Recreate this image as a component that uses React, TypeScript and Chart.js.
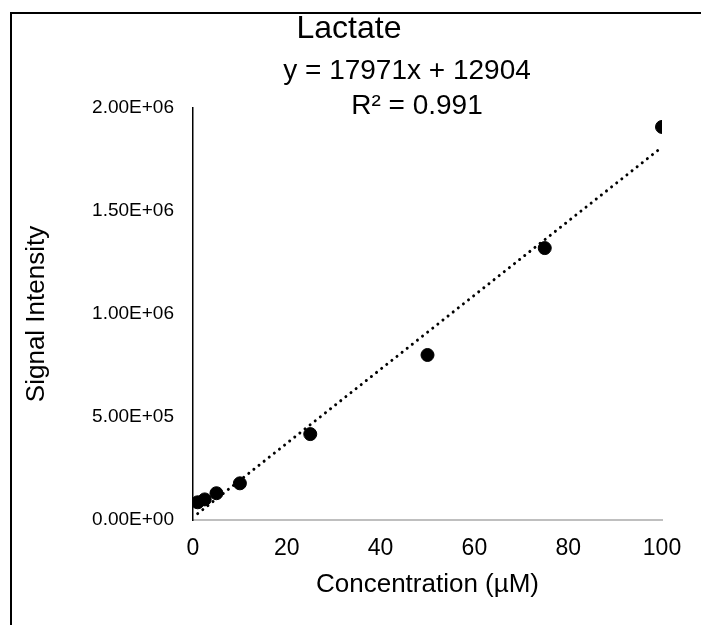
import React, { useEffect, useRef } from "react";
import { Chart, registerables } from "chart.js";

Chart.register(...registerables);

// Lactate calibration data
const concentrations = [1, 2.5, 5, 10, 25, 50, 75, 100];
const intensities = [86000, 100000, 130000, 178000, 417000, 801000, 1320000, 1908000];

// Linear trendline stated on the chart
const TREND_SLOPE = 17971;
const TREND_INTERCEPT = 12904;
const TREND_R2 = 0.991;
const trendRange = [1, 100];

const xTicks = [0, 20, 40, 60, 80, 100];
const yTicks = [0, 500000, 1000000, 1500000, 2000000];

const TITLE = "Lactate";
const X_TITLE = "Concentration (µM)";
const Y_TITLE = "Signal Intensity";

const FONT = "'Liberation Sans', Arial, sans-serif";

function sci(v: number): string {
  const [mant, exp] = v.toExponential(2).toUpperCase().split("E");
  const sign = exp.startsWith("-") ? "-" : "+";
  const digits = exp.replace(/[+-]/, "").padStart(2, "0");
  return `${mant}E${sign}${digits}`;
}

const textPlugin = {
  id: "textOverlay",
  afterDraw(chart: Chart) {
    const ctx = chart.ctx;
    ctx.save();
    // frame along the top and left edges
    ctx.strokeStyle = "#000";
    ctx.lineWidth = 2;
    ctx.beginPath();
    ctx.moveTo(11, 625);
    ctx.lineTo(11, 13);
    ctx.lineTo(701, 13);
    ctx.stroke();

    ctx.fillStyle = "#000";
    ctx.textAlign = "center";
    ctx.textBaseline = "middle";

    ctx.font = `32px ${FONT}`;
    ctx.fillText(TITLE, 349, 29);

    ctx.font = `28px ${FONT}`;
    ctx.fillText(`y = ${TREND_SLOPE}x + ${TREND_INTERCEPT}`, 407, 71);
    ctx.fillText(`R² = ${TREND_R2}`, 417, 106);

    const area = chart.chartArea;
    ctx.font = `26px ${FONT}`;
    ctx.fillText(X_TITLE, (area.left + area.right) / 2, 585);

    ctx.save();
    ctx.translate(37, (area.top + area.bottom) / 2);
    ctx.rotate(-Math.PI / 2);
    ctx.fillText(Y_TITLE, 0, 0);
    ctx.restore();

    ctx.restore();
  },
};

export default function App() {
  const canvasRef = useRef<HTMLCanvasElement | null>(null);

  useEffect(() => {
    if (!canvasRef.current) return;
    const trendPoints = trendRange.map((x) => ({
      x,
      y: TREND_SLOPE * x + TREND_INTERCEPT,
    }));
    const points = concentrations.map((x, i) => ({ x, y: intensities[i] }));

    const chart = new Chart(canvasRef.current, {
      type: "scatter",
      data: {
        datasets: [
          {
            label: "Linear (Lactate)",
            data: trendPoints,
            showLine: true,
            borderColor: "#000",
            borderWidth: 3,
            borderDash: [0.01, 6.5],
            borderCapStyle: "round",
            pointRadius: 0,
            fill: false,
          },
          {
            label: "Lactate",
            data: points,
            backgroundColor: "#000",
            borderColor: "#000",
            pointRadius: 6.5,
            pointHoverRadius: 6.5,
          },
        ],
      },
      options: {
        animation: false,
        responsive: false,
        events: [],
        layout: { padding: { left: 0, right: 39, top: 108, bottom: 0 } },
        plugins: {
          legend: { display: false },
          tooltip: { enabled: false },
          title: { display: false },
        },
        scales: {
          x: {
            type: "linear",
            min: 0,
            max: 100,
            afterBuildTicks(scale: any) {
              scale.ticks = xTicks.map((value) => ({ value }));
            },
            afterFit(scale: any) {
              scale.height = 105;
            },
            grid: { display: false, drawTicks: false },
            border: { display: true, color: "#bfbfbf", width: 2 },
            ticks: {
              color: "#000",
              font: { family: FONT, size: 23 },
              padding: 15,
              maxRotation: 0,
            },
          },
          y: {
            type: "linear",
            min: 0,
            max: 2000000,
            afterBuildTicks(scale: any) {
              scale.ticks = yTicks.map((value) => ({ value }));
            },
            afterFit(scale: any) {
              scale.width = 193;
            },
            grid: { display: false, drawTicks: false },
            border: { display: true, color: "#000", width: 1.5 },
            ticks: {
              color: "#000",
              font: { family: FONT, size: 19 },
              padding: 19,
              callback: (v: any) => sci(Number(v)),
            },
          },
        },
      },
      plugins: [textPlugin],
    });
    return () => chart.destroy();
  }, []);

  return (
    <div
      style={{
        position: "absolute",
        left: 0,
        top: 0,
        width: 701,
        height: 625,
        background: "#fff",
      }}
    >
      <canvas ref={canvasRef} width={701} height={625} />
    </div>
  );
}
